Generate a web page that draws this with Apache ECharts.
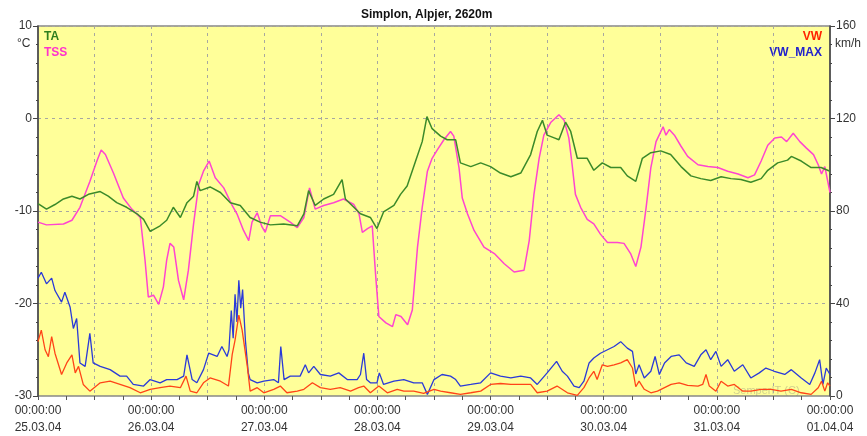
<!DOCTYPE html>
<html>
<head>
<meta charset="utf-8">
<title>Simplon, Alpjer, 2620m</title>
<script src="https://cdn.jsdelivr.net/npm/echarts@6/dist/echarts.min.js"></script>
<style>
  html, body { margin: 0; padding: 0; background: #fff; }
  #chart { width: 867px; height: 436px; }
</style>
</head>
<body>
<div id="chart"></div>
<script>
// Day labels on the time axis (every 24 h from 25.03.04 00:00)
const dayLabels = ['25.03.04', '26.03.04', '27.03.04', '28.03.04', '29.03.04', '30.03.04', '31.03.04', '01.04.04'];

// TA - air temperature (°C), hours since start
const taHours = [0, 1.8, 3.6, 5.4, 7.2, 8.9, 10.7, 13.2, 14.9, 16.7, 18.8, 21, 22.4, 23.8, 25.9, 27.3, 28.7, 30.2, 31.6, 33, 33.7, 34.4, 36.5, 38.7, 40.8, 42.9, 45, 47.1, 49.3, 52.1, 55, 56.4, 57.4, 58.8, 60.6, 62.7, 64.5, 65.2, 67, 68.4, 70.5, 71.9, 73.3, 75.5, 76.9, 78.3, 80.1, 81.5, 82.5, 83.6, 85.4, 86.8, 88.6, 89.6, 91.8, 93.9, 96, 98.1, 100.3, 102.4, 104.5, 105.9, 107, 108, 109.5, 110.5, 111.9, 113, 114.4, 116.5, 117.9, 119.7, 121.5, 123.6, 125, 126.8, 128.2, 130, 132.1, 134.2, 136.4, 138.5, 140.6, 142.7, 144.9, 147, 149.1, 151.2, 153.4, 154.8, 156.9, 159, 159.8, 161.9, 164, 166.1, 168];
const taValues = [-9.2, -9.8, -9.3, -8.7, -8.4, -8.7, -8.2, -7.9, -8.4, -9.1, -9.6, -10.3, -10.9, -12.2, -11.6, -11, -9.6, -10.7, -9.1, -8.4, -6.8, -7.8, -7.4, -8, -9.1, -9.4, -10.7, -11.2, -11.5, -11.4, -11.6, -10.3, -7.8, -9.4, -8.7, -8.2, -6.6, -8.7, -9.6, -10.3, -10.7, -11.9, -10.1, -9.4, -8.2, -7.3, -4.6, -2.5, 0.2, -1.1, -1.9, -2.3, -2.3, -4.8, -5.2, -4.8, -5.2, -5.9, -6.3, -5.9, -3.9, -1.4, -0.2, -1.8, -2.1, -2.3, -0.4, -1.4, -4.3, -4.3, -5.6, -4.8, -5.3, -5.3, -6.2, -6.8, -4.3, -3.7, -3.5, -3.9, -5.2, -6.2, -6.5, -6.7, -6.3, -6.5, -6.6, -6.9, -6.5, -5.6, -4.8, -4.5, -4.1, -4.6, -5.3, -5.3, -5.7];

// TSS - snow surface temperature (°C)
const tssHours = [0, 1.8, 5.4, 7.2, 8.9, 11, 12.5, 13.4, 14.3, 16, 18.1, 19.9, 21.7, 22.7, 23.4, 24.5, 25.6, 26.6, 27.3, 28, 28.8, 29.8, 30.9, 31.9, 33, 34.1, 35.1, 36.3, 37.6, 39.4, 41.1, 42.2, 43.6, 44.7, 45.4, 46.5, 47.5, 48.2, 49.3, 51.4, 53.5, 55, 56.4, 57.6, 58.8, 60.6, 62.7, 64.8, 67, 68.1, 68.8, 69.9, 70.9, 71.6, 72.3, 73.8, 75.2, 75.9, 77, 78.4, 79.4, 80.5, 81.5, 82.6, 83.6, 84.7, 86.1, 87.5, 88.2, 89.3, 90, 91.1, 92.5, 94.6, 96.8, 98.9, 101, 103.1, 104.2, 105.2, 106.3, 107.3, 108.8, 110.5, 111.6, 112.6, 113.3, 114, 115.1, 116.5, 117.9, 119.3, 120.8, 122.9, 124.3, 125.7, 126.8, 127.9, 129, 130, 131.1, 132.6, 133.2, 133.9, 135, 136.4, 137.8, 140, 142.1, 144.2, 146.3, 148.5, 150.6, 152, 153.4, 154.8, 156.3, 157.7, 158.8, 160.2, 161.6, 163, 164.5, 165.5, 166.2, 166.9, 168];
const tssValues = [-11.2, -11.5, -11.4, -11, -9.6, -6.8, -4.6, -3.4, -3.9, -5.9, -8.6, -9.8, -10.7, -15.3, -19.3, -19.1, -20.1, -18.2, -15.3, -13.5, -13.9, -17.5, -19.6, -16.4, -11.4, -7.1, -5.7, -4.6, -6.4, -7.5, -9.3, -10.3, -12.1, -13.2, -11.2, -10.2, -11.7, -12.3, -10.5, -10.5, -11.2, -11.8, -10.7, -7.5, -9.8, -9.4, -9.1, -8.7, -9.3, -10.3, -12.3, -11.9, -11.6, -16.8, -21.4, -22.1, -22.5, -21.2, -21.4, -22.3, -20.7, -13.9, -9.6, -5.7, -4.3, -3.4, -2.3, -1.4, -1.9, -5.3, -8.6, -10.3, -12.1, -13.9, -14.6, -15.7, -16.6, -16.4, -13.2, -8.2, -4.3, -1.8, -0.4, 0.4, -0.2, -2.1, -5, -8.2, -9.6, -10.9, -11.4, -12.5, -13.4, -13.4, -13.5, -14.6, -16, -13.9, -9.6, -5.3, -2.5, -0.9, -1.8, -1.2, -1.8, -3, -4.1, -5, -5.2, -5.3, -5.7, -6, -6.4, -6.1, -4.6, -2.9, -2.1, -2, -2.5, -1.6, -2.5, -3.2, -3.9, -5, -6, -5.2, -8];

// VW - wind speed (km/h)
const vwHours = [0, 0.7, 1.5, 2.2, 2.9, 3.6, 5, 6.1, 7.2, 7.9, 8.6, 9.6, 11, 13.2, 15.3, 17.4, 19.5, 21.7, 23.8, 25.9, 28, 30.2, 31.4, 32.3, 33.7, 35.1, 36.5, 38.7, 40.4, 41.2, 41.8, 42.6, 43.3, 44.4, 45, 46.5, 47.9, 50, 51.4, 52.8, 55, 56.4, 58.2, 59.9, 62, 64.1, 66.3, 68, 69.1, 70.5, 72.3, 74.1, 76.2, 77.6, 79.7, 81.8, 84, 85.4, 87.5, 89.6, 91.8, 93.9, 96, 98.1, 100.3, 102.4, 104.5, 105.9, 108, 110.1, 112.3, 114.4, 115.8, 116.9, 117.9, 118.6, 119.7, 120.8, 122.2, 123.6, 125, 126.1, 126.8, 127.5, 128.6, 130, 131.4, 132.9, 134.3, 136, 137.8, 140, 141, 141.7, 142.4, 143.8, 144.9, 146.3, 147.7, 149.5, 151.2, 153.4, 155.5, 157.6, 159.8, 161.9, 164, 165.5, 166.2, 166.9, 167.5, 168];
const vwValues = [23.5, 28.5, 20, 17, 25.7, 18.5, 9.3, 14.3, 17.8, 10, 12.8, 5, 2.1, 5.7, 6.4, 5, 3.6, 1.4, 2.9, 3.6, 4.3, 3.6, 8.6, 2.1, 1.4, 5.7, 7.8, 6.4, 4.3, 18, 24.2, 35, 28.5, 12.8, 2.1, 3.6, 1.4, 2.9, 4.3, 1.4, 2.1, 2.9, 5.7, 3.6, 2.9, 3.6, 2.1, 3.6, 4.3, 1.4, 4.3, 1.4, 2.9, 2.1, 2.1, 1.1, 2.9, 2.1, 1.4, 0.7, 1.4, 2.1, 5, 5.4, 5, 5, 5, 1.4, 2.1, 4.3, 1.4, 0.3, 3.6, 7.8, 10.7, 7.1, 13.5, 12.8, 13.5, 14.3, 15.7, 12.1, 4, 6.4, 2.9, 1.4, 2.1, 3.6, 5, 5.7, 4.6, 4.3, 5, 9.3, 4.3, 2.1, 6.4, 4.3, 5, 2.1, 2.1, 2.9, 2.9, 2.1, 2.9, 1.4, 0.7, 3.6, 6.4, 2.1, 5.7, 4.3];

// VW_MAX - wind gusts (km/h)
const vwMaxHours = [0, 0.7, 1.8, 2.9, 3.6, 5, 5.7, 6.8, 7.5, 8.2, 8.9, 10, 11, 11.7, 13.2, 15.3, 17.4, 18.8, 20.2, 22.4, 23.8, 25.9, 27.3, 29.5, 30.9, 31.6, 32.7, 33.7, 35.1, 36.2, 38, 39, 40.1, 40.5, 41, 41.4, 41.8, 42.2, 42.6, 43, 43.4, 44, 44.6, 45, 46.5, 47.9, 50, 51, 51.5, 52.2, 53.5, 55.6, 56.7, 57.4, 58.5, 59.9, 62, 63.8, 65.6, 67.7, 68.4, 69.1, 69.7, 70.5, 71.9, 72.4, 73.3, 75.5, 77.6, 79.7, 81.5, 82.6, 84, 85.7, 87.5, 88.6, 89.6, 91.8, 93.9, 96, 98.1, 100.3, 102.4, 104.5, 105.9, 108, 110, 111.2, 112.3, 113.7, 114.8, 115.8, 116.9, 117.9, 119.3, 120.8, 122.2, 123.6, 125, 126.1, 126.8, 127.5, 128.6, 130, 130.9, 131.8, 132.9, 134.3, 136, 137.5, 139.2, 140.6, 141.7, 142.7, 143.8, 144.9, 146.3, 147.7, 149.5, 151.2, 153, 154.4, 156.2, 158.4, 159.8, 161.9, 163.7, 164.8, 165.8, 166.5, 167.2, 168];
const vwMaxValues = [51, 53.5, 48.5, 51, 45.6, 40.6, 44.9, 38.5, 29.2, 33.5, 14.3, 12.8, 27.1, 14.3, 12.8, 11.4, 8.6, 8.6, 5, 4.3, 7.1, 5.7, 7.1, 7.1, 8.6, 17.8, 7.1, 5.7, 11.4, 18.5, 17.1, 21.4, 17.1, 20, 37, 25, 44, 32, 50, 38, 46, 24, 10, 7.1, 5.7, 6.4, 7.1, 5.7, 21.4, 7.1, 8.6, 8.6, 13.5, 10, 12.8, 9.3, 8.6, 10, 7.1, 7.1, 9.3, 18.5, 7.1, 5.7, 5.7, 10, 5, 6.4, 7.1, 5.7, 5.7, 0.7, 7.1, 9.3, 8.6, 7.1, 4.3, 5, 5.7, 10, 8.6, 7.8, 8.6, 7.8, 5, 10, 15, 10.7, 8.6, 4.3, 3.6, 6.4, 14.3, 16.4, 18.5, 20, 21.4, 23.5, 20.7, 19.3, 9.5, 13.5, 7.8, 10.7, 17.1, 9.3, 14.3, 17.1, 17.8, 14.3, 12.8, 17.8, 20, 15.7, 19.3, 12.8, 15.7, 10.7, 13.5, 7.8, 10, 12.1, 10.7, 9.3, 11.4, 7.8, 5, 10, 15.7, 5, 12.1, 9.3];

const FONT = '"Liberation Sans", Arial, sans-serif';

function pairs(hours, values) {
    return hours.map((h, i) => [h, values[i]]);
}

const chart = echarts.init(document.getElementById('chart'));

const gridLine = { show: true, lineStyle: { color: '#a8a8a0', type: [3, 4], width: 1 } };

const option = {
    backgroundColor: '#ffffff',
    animation: false,
    title: {
        text: 'Simplon, Alpjer, 2620m',
        left: 356,
        top: 4,
        textStyle: { fontFamily: FONT, fontSize: 12, fontWeight: 'bold', color: '#111' }
    },
    grid: {
        left: 38, right: 37, top: 26, bottom: 36,
        show: true,
        backgroundColor: '#ffff99',
        borderColor: '#888',
        borderWidth: 1.5
    },
    xAxis: {
        type: 'value',
        min: 0, max: 168, interval: 12,
        position: 'bottom',
        axisLine: { show: false, onZero: false },
        axisTick: { show: true, length: 4, lineStyle: { color: '#555' } },
        minorTick: { show: true, splitNumber: 2, length: 4, lineStyle: { color: '#555' } },
        splitLine: gridLine,
        axisLabel: {
            fontFamily: FONT, fontSize: 12, color: '#333', lineHeight: 17, margin: 6,
            showMinLabel: true, showMaxLabel: true,
            formatter: function (v) {
                if (v % 24 !== 0) return '';
                return '00:00:00\n' + dayLabels[v / 24];
            }
        }
    },
    yAxis: [{
        type: 'value',
        min: -30, max: 10, interval: 10,
        position: 'left',
        axisLine: { show: true, onZero: false, lineStyle: { color: '#444', width: 1.5 } },
        axisTick: { show: true, length: 5, lineStyle: { color: '#444' } },
        minorTick: { show: true, splitNumber: 5, length: 2, lineStyle: { color: '#444' } },
        splitLine: { show: false },
        axisLabel: { fontFamily: FONT, fontSize: 12, color: '#333', margin: 6 }
    }, {
        type: 'value',
        min: 0, max: 160, interval: 40,
        position: 'right',
        axisLine: { show: true, onZero: false, lineStyle: { color: '#444', width: 1.5 } },
        axisTick: { show: true, length: 5, lineStyle: { color: '#444' } },
        minorTick: { show: true, splitNumber: 5, length: 2, lineStyle: { color: '#444' } },
        splitLine: gridLine,
        axisLabel: { fontFamily: FONT, fontSize: 12, color: '#333', margin: 6 }
    }],
    graphic: [
        { type: 'text', left: 17, top: 38, style: { text: '°C', font: '12px ' + FONT, fill: '#333' } },
        { type: 'text', left: 835, top: 38, style: { text: 'km/h', font: '12px ' + FONT, fill: '#333' } },
        { type: 'text', left: 44, top: 31, style: { text: 'TA', font: 'bold 12px ' + FONT, fill: '#2f7f1f' } },
        { type: 'text', left: 44, top: 47, style: { text: 'TSS', font: 'bold 12px ' + FONT, fill: '#ff33cc' } },
        { type: 'text', right: 45, top: 31, style: { text: 'VW', font: 'bold 12px ' + FONT, fill: '#ff2200', align: 'right' } },
        { type: 'text', right: 45, top: 47, style: { text: 'VW_MAX', font: 'bold 12px ' + FONT, fill: '#2222cc', align: 'right' } },
        { type: 'text', left: 733, top: 385, z: 0, style: { text: 'SemperIT (C)', font: '11px ' + FONT, fill: 'rgba(120,120,120,0.35)' } }
    ],
    series: [{
        name: 'TSS',
        type: 'line',
        yAxisIndex: 0,
        showSymbol: false,
        data: pairs(tssHours, tssValues),
        lineStyle: { color: '#ff44d0', width: 1.5 },
        itemStyle: { color: '#ff44d0' }
    }, {
        name: 'TA',
        type: 'line',
        yAxisIndex: 0,
        showSymbol: false,
        data: pairs(taHours, taValues),
        lineStyle: { color: '#3b8a2a', width: 1.5 },
        itemStyle: { color: '#3b8a2a' }
    }, {
        name: 'VW_MAX',
        type: 'line',
        yAxisIndex: 1,
        showSymbol: false,
        data: pairs(vwMaxHours, vwMaxValues),
        lineStyle: { color: '#2a3ad8', width: 1.3 },
        itemStyle: { color: '#2a3ad8' }
    }, {
        name: 'VW',
        type: 'line',
        yAxisIndex: 1,
        showSymbol: false,
        data: pairs(vwHours, vwValues),
        lineStyle: { color: '#ff4418', width: 1.3 },
        itemStyle: { color: '#ff4418' }
    }]
};

chart.setOption(option);
</script>
</body>
</html>
